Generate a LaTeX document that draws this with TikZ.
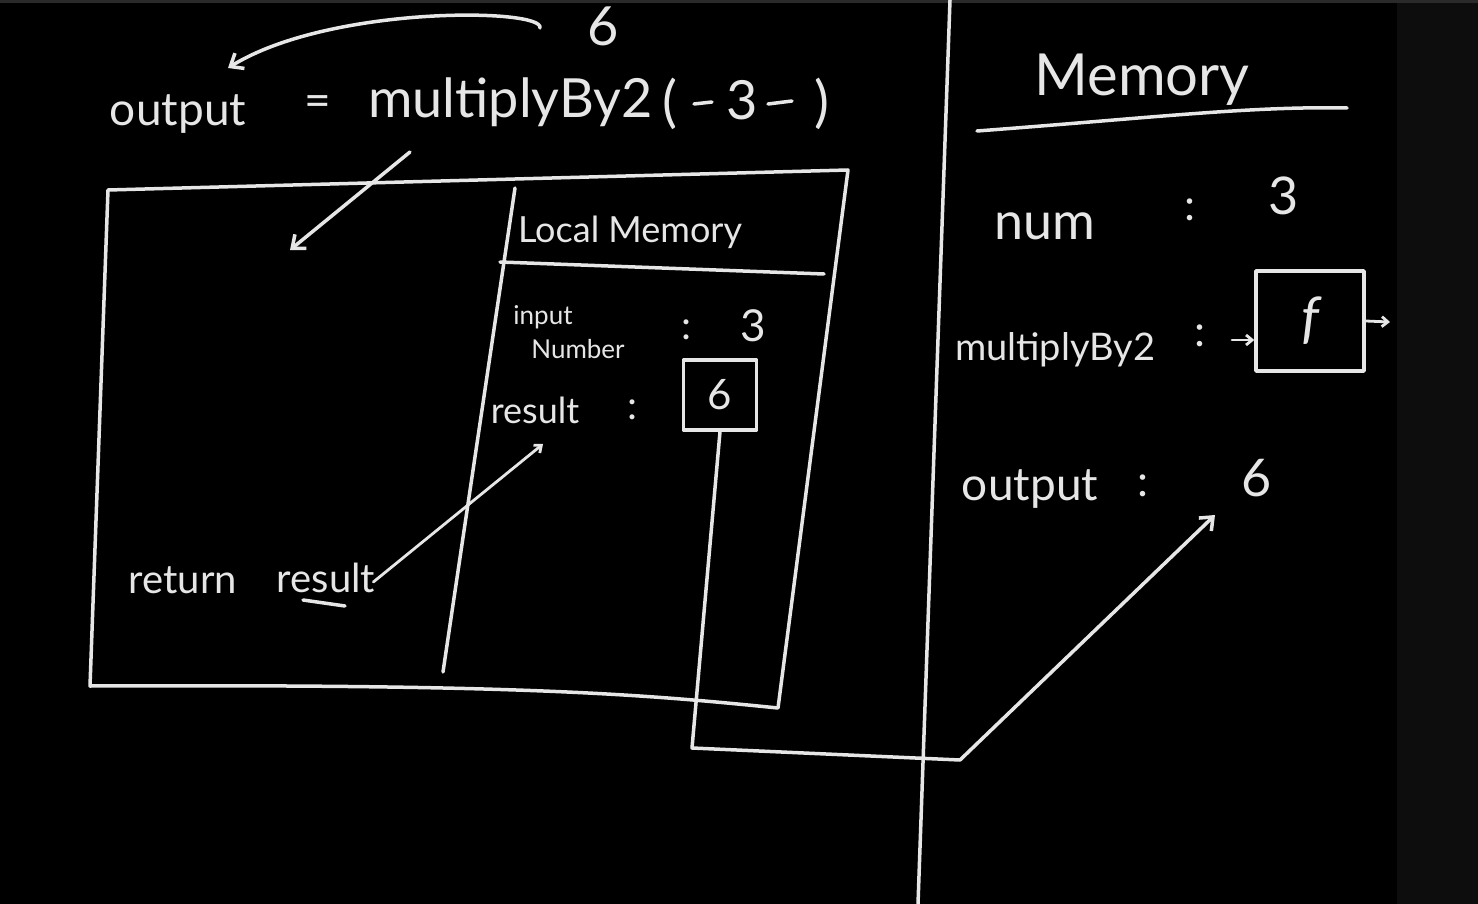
\documentclass[tikz,border=0pt]{standalone}
\usepackage{fontspec}
\setmainfont{Lato}
\usetikzlibrary{arrows.meta}
\definecolor{chalk}{HTML}{E6E6E6}
\definecolor{board}{HTML}{000000}
\definecolor{strip}{HTML}{0D0D0D}
\definecolor{topband}{HTML}{2A2A2A}
\begin{document}
\begin{tikzpicture}[x=1pt,y=-1pt,
  chalkline/.style={draw=chalk, line width=3.5pt, line cap=round, line join=round},
  arr/.style={chalkline, -{Straight Barb[length=11pt,width=18pt,line width=3.5pt]}},
  smallarr/.style={chalkline, line width=2.8pt, -{Straight Barb[length=6pt,width=10pt,line width=2.8pt]}},
  txt/.style={text=chalk, inner sep=0pt, font=\fontsize{#1}{#1}\selectfont},
  txt/.default=40,
  valbox/.style={chalkline, rectangle, inner sep=0pt, text=chalk}]
% board
\fill[board] (0,0) rectangle (1478,904);
\fill[strip] (1397,0) rectangle (1478,904);
\fill[topband] (0,0) rectangle (1478,3);
\useasboundingbox (0,0) rectangle (1478,904);

% ---------- top statement ----------
\node[txt=46] (lhs) at (178,114) {output};
\node[txt=46] (eq) at (318,106) {=};
\node[txt=54, anchor=west] (call) at (368,102) {multiplyBy2};
\node[txt=56] (lp) at (670,104) {(};
\node[txt=54] (arg) at (742,100) {3};
\node[txt=56] (rp) at (822,104) {)};
\draw[chalkline] (694,104) -- (712,102);
\draw[chalkline] (768,104) -- (792,101);
\node[txt=54] (six) at (603,26) {6};
\coordinate (cstart) at (540,28);
\coordinate (cend) at (228,68);
\draw[arr] (cstart) .. controls (545,8) and (330,5) .. (cend);

% arrow into the function box
\coordinate (callfoot) at (410,152);
\coordinate (boxin) at (290,250);
\draw[arr] (callfoot) -- (boxin);

% ---------- function frame ----------
\draw[chalkline] (108,190) -- (848,170) -- (778,708)
   .. controls (640,694) and (520,684) .. (90,686) -- (108,190);
% local memory partition
\draw[chalkline] (515,188) -- (443,672);
\draw[chalkline] (500,262) -- (824,274);
\node[txt=36] (lmem) at (630,232) {Local Memory};

\node[txt=26] (inp1) at (543,317) {input};
\node[txt=26] (inp2) at (578,349) {Number};
\node[txt=40] (c1) at (686,330) {:};
\node[txt=44] (v3) at (753,326) {3};

\node[txt=36] (res) at (535,410) {result};
\node[txt=40] (c2) at (632,410) {:};
\node[valbox, minimum width=73pt, minimum height=70pt, font=\fontsize{42}{42}\selectfont] (res6) at (720,395) {6};

\node[txt=40] (ret) at (183,580) {return};
\node[txt=40] (retres) at (326,578) {result};
\draw[chalkline] (303,600) -- (345,606);
\coordinate (restip) at (543,444);
\draw[smallarr] (retres.east) ++(-2,4) -- (restip);

% ---------- divider ----------
\coordinate (dtop) at (950,0);
\coordinate (dbot) at (918,904);
\draw[chalkline] (dtop) -- (dbot);

% ---------- global memory ----------
\node[txt=58] (mem) at (1142,80) {Memory};
\draw[chalkline] (977,131) .. controls (1150,118) and (1250,106) .. (1347,108);

\node[txt=52] (num) at (1045,226) {num};
\node[txt=44] (c3) at (1190,210) {:};
\node[txt=52] (n3) at (1284,196) {3};

\node[txt=38] (mult) at (1055,350) {multiplyBy2};
\node[txt=44] (c4) at (1200,336) {:};
\node[valbox, minimum width=108pt, minimum height=100pt, font=\fontsize{56}{56}\selectfont\itshape] (fbox) at (1310,321) {f};
\coordinate (fin) at (1232,340);
\draw[smallarr] (fin) -- (fin -| fbox.west);
\coordinate (fout) at (1390,322);
\draw[smallarr] (fbox.east) -- (fout);

\node[txt=46] (outp) at (1030,489) {output};
\node[txt=44] (c5) at (1143,486) {:};
\node[txt=52] (o6) at (1257,478) {6};

% ---------- return path ----------
\coordinate (rb1) at (692,748);
\coordinate (rb2) at (960,760);
\coordinate (otip) at (1215,515);
\draw[arr] (res6.south) -- (rb1) -- (rb2) -- (otip);
\end{tikzpicture}
\end{document}
